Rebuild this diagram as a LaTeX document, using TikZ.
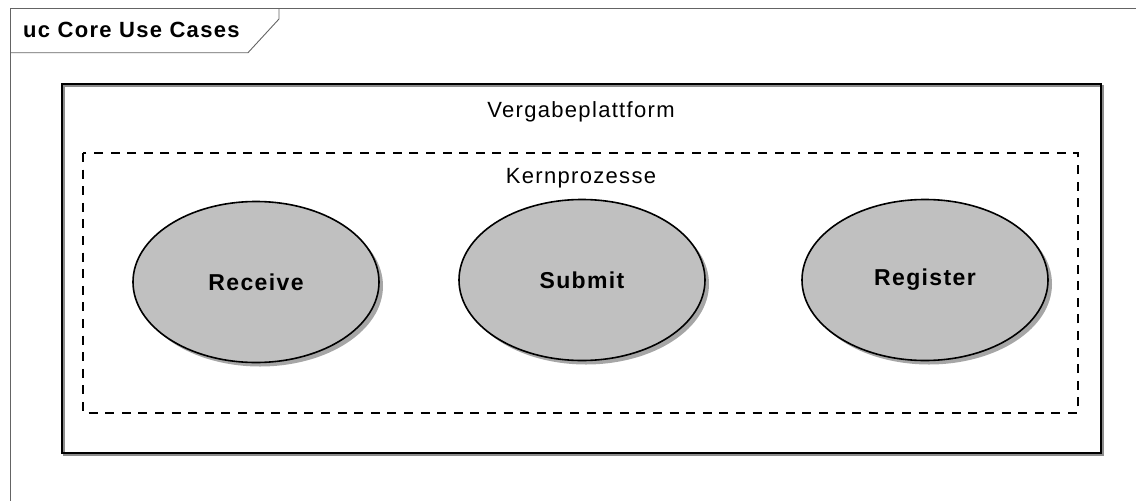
\documentclass[tikz,border=0pt]{standalone}
\usepackage{fontspec}
\setmainfont{Liberation Sans}
\newfontfamily\umlfont[LetterSpace=6]{Liberation Sans}
\usetikzlibrary{shapes.geometric, shadows}
\definecolor{casegray}{RGB}{192,192,192}
\definecolor{framegray}{RGB}{100,100,100}

\begin{document}
\begin{tikzpicture}[x=1pt, y=-1pt,
    usecase/.style={ellipse, draw=black, line width=1.6pt, fill=casegray,
        minimum width=246pt, minimum height=161pt, inner sep=0pt,
        drop shadow={shadow xshift=4pt, shadow yshift=-4pt, fill=black!35, opacity=1},
        font=\umlfont\bfseries\fontsize{23}{27}\selectfont},
    boxlabel/.style={font=\umlfont\fontsize{22}{26}\selectfont, inner sep=0pt, anchor=base}]
    \useasboundingbox (0,0) rectangle (1136,501);

    % frame
    \draw[framegray, line width=0.9pt] (10,501) -- (10,8) -- (1136,8);
    \draw[framegray, line width=0.9pt] (10,52.7) -- (248,52.7) -- (279,19) -- (279,8);
    \node[font=\umlfont\bfseries\fontsize{22}{26}\selectfont, inner sep=0pt, anchor=base west]
        (title) at (23,37.5) {uc Core Use Cases};

    % system boundary
    \draw[black!45, line width=1.6pt] (64,86) rectangle (1103,455);
    \draw[black, line width=1.8pt] (62,84) rectangle (1101,453);
    \node[boxlabel] (vp) at (581,117) {Vergabeplattform};

    % package
    \draw[black, line width=1.5pt, dash pattern=on 9pt off 7.6pt] (83,153) rectangle (1078,413);
    \node[boxlabel] (kp) at (581,183) {Kernprozesse};

    % use cases
    \node[usecase] (receive) at (256,282) {\raisebox{-3pt}{Receive}};
    \node[usecase] (submit) at (582,280) {Submit};
    \node[usecase] (register) at (925,280) {Register};
\end{tikzpicture}
\end{document}
